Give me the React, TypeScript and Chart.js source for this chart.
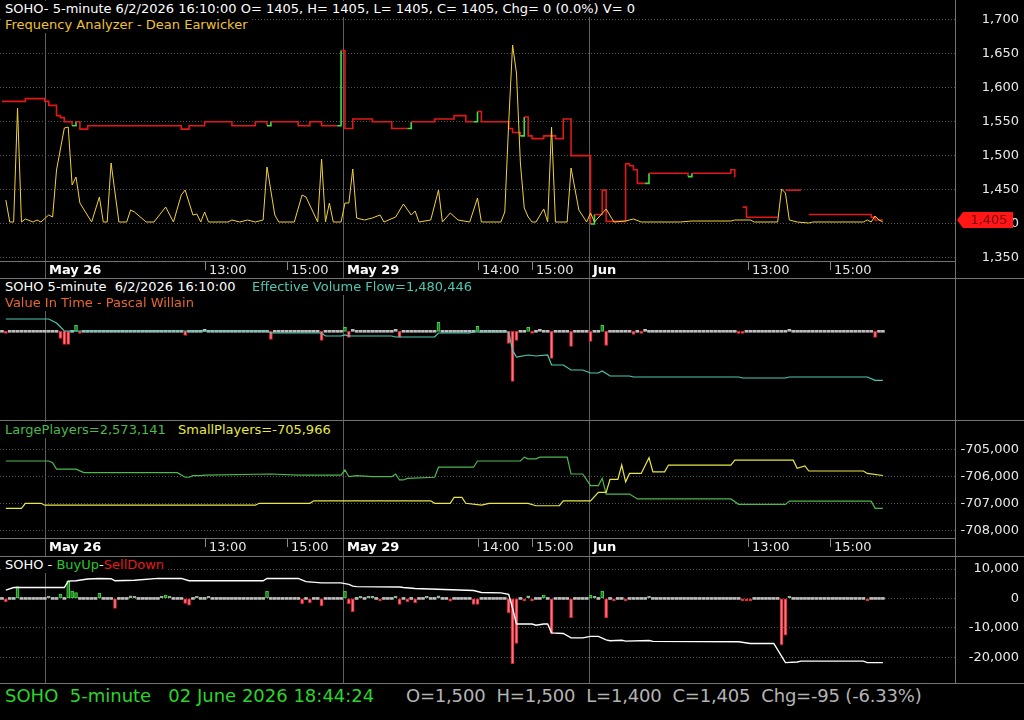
import React, { useEffect, useRef } from 'react';
import { Chart, registerables } from 'chart.js';

Chart.register(...registerables);

// ---------------- shared x axis (bar index, 5-minute bars) ----------------
const slotCount = 245;
const barCount = 227;
const tickIdx = [11, 52, 73, 87.5, 122, 136, 150.5, 191.5, 212.5];
const tickLabels = ['May 26', '13:00', '15:00', 'May 29', '14:00', '15:00', 'Jun', '13:00', '15:00'];

// ---------------- panel 1: price (step line) + Frequency Analyzer ----------------
const priceIdx = [0, 6, 11, 12, 14, 15, 16, 18, 19, 20, 22, 46, 48, 52, 59, 65, 68, 69, 76, 79, 82, 86, 87, 88, 90, 95, 100, 104, 105, 111, 116, 119, 121, 122, 123, 130, 131, 133, 134, 135, 136, 139, 142, 144, 146, 151, 152, 154, 155, 160, 161, 162, 163, 165, 166, 175, 176, 177, 187, 188, 189, 190, 191, 199, 200, 201, 205, 206, 207, 222, 223, 224, 226];
const priceVal = [1580, 1584, 1580, 1574, 1559, 1556, 1550, 1544, 1550, 1539, 1544, 1539, 1544, 1550, 1544, 1550, 1544, 1550, 1544, 1550, 1544, 1544, 1655, 1540, 1554, 1550, 1540, 1540, 1550, 1554, 1559, 1550, 1550, 1565, 1550, 1540, 1534, 1529, 1557, 1529, 1525, 1529, 1525, 1554, 1500, 1399, 1413, 1449, 1403, 1488, 1485, 1479, 1459, 1459, 1474, 1474, 1469, 1474, 1479, 1468, null, 1424, 1409, 1409, null, 1449, 1449, null, 1413, 1413, 1409, 1405, 1405];
const freqIdx = [1, 2, 3, 4, 5, 6, 8, 9, 10, 12, 13, 14, 16, 17, 18, 19, 20, 23, 25, 26, 27, 28, 30, 32, 33, 34, 37, 39, 42, 44, 46, 47, 49, 50, 51, 52, 53, 58, 59, 61, 63, 65, 67, 68, 70, 71, 75, 77, 78, 81, 82, 83, 84, 85, 87, 88, 89, 90, 91, 93, 95, 97, 98, 101, 103, 105, 106, 107, 110, 112, 113, 115, 117, 120, 122, 123, 128, 129, 130, 131, 132, 133, 134, 135, 136, 137, 139, 140, 141, 142, 145, 146, 148, 150, 151, 152, 155, 157, 160, 162, 164, 174, 177, 187, 188, 192, 193, 199, 200, 201, 202, 204, 207, 208, 221, 222, 223, 224, 225, 226];
const freqVal = [22, 0, 0, 114, 0, 3, 0, 2, 0, 7, 5, 52, 94, 95, 37, 45, 19, 0, 25, 0, 0, 59, 0, 0, 12, 10, 0, 0, 15, 0, 27, 32, 7, 8, 0, 10, 0, 0, 2, 0, 2, 0, 2, 55, 7, 0, 0, 27, 25, 0, 63, 0, 19, 0, 0, 19, 19, 53, 4, 2, 4, 7, 0, 5, 18, 7, 11, 0, 2, 32, 0, 9, 2, 0, 24, 0, 0, 10, 99, 177, 149, 59, 14, 5, 0, 0, 13, 0, 95, 0, 0, 54, 12, 0, 9, 0, 13, 0, 1, 3, 0, 0, 1, 1, 2, 2, 0, 0, 33, 29, 2, 0, -1, 0, 0, 2, 0, 6, 2, 0];
const priceTickVals = [1350, 1400, 1450, 1500, 1550, 1600, 1650, 1700];

// ---------------- panel 2: Value In Time bars + Effective Volume Flow ----------------
const vitIdx = [1, 15, 16, 17, 19, 20, 47, 52, 69, 82, 88, 89, 90, 101, 102, 112, 122, 130, 131, 132, 135, 136, 138, 141, 146, 151, 154, 155, 162, 164, 165, 189, 190, 202, 224];
const vitVal = [-2000, -7000, -13000, -13000, 6000, -2000, -4000, 2000, -8000, -9000, 4000, -6000, 2000, 2000, -6000, 9000, 5000, -12000, -50000, -9000, 4000, -2000, 2000, -27000, -15000, -10000, 6000, -14000, -3000, -2000, 1000, -2000, -2000, 2000, -6000];
const evfIdx = [1, 12, 14, 16, 68, 69, 82, 83, 87, 88, 89, 100, 101, 111, 112, 120, 121, 130, 131, 132, 135, 137, 140, 141, 144, 146, 149, 151, 153, 154, 156, 161, 162, 189, 190, 201, 202, 222, 224, 226];
const evfVal = [4999000, 4999000, 4769000, 4310000, 4310000, 4195000, 4195000, 4023000, 4023000, 4081000, 4023000, 4023000, 3966000, 3966000, 4195000, 4195000, 4253000, 4253000, 3200000, 2818000, 2933000, 2875000, 2933000, 2359000, 2359000, 2072000, 2072000, 1899000, 1899000, 2014000, 1727000, 1727000, 1670000, 1670000, 1612000, 1612000, 1670000, 1670000, 1480446, 1480446];

// ---------------- panel 3: LargePlayers / SmallPlayers ----------------
const lpIdx = [1, 12, 13, 14, 19, 21, 45, 47, 48, 49, 51, 52, 69, 76, 87, 88, 89, 91, 95, 100, 101, 102, 103, 104, 111, 112, 121, 122, 133, 134, 135, 137, 138, 145, 146, 149, 151, 153, 154, 155, 161, 163, 187, 189, 201, 202, 223, 224, 226];
const lpVal = [2590600, 2590600, 2590000, 2587600, 2587600, 2586300, 2586300, 2584600, 2584600, 2585200, 2585200, 2585400, 2585800, 2585400, 2585400, 2587300, 2584800, 2585200, 2584800, 2584800, 2585800, 2583600, 2583600, 2584200, 2584600, 2588300, 2588300, 2590600, 2590600, 2592000, 2591400, 2591400, 2592000, 2592000, 2585800, 2585800, 2581500, 2581500, 2584200, 2578400, 2578400, 2576600, 2576600, 2574600, 2574600, 2575800, 2575800, 2573141, 2573141];
const spIdx = [1, 5, 6, 10, 11, 65, 66, 79, 80, 110, 111, 115, 116, 118, 119, 123, 125, 135, 137, 143, 144, 151, 153, 155, 156, 158, 159, 160, 161, 164, 166, 167, 170, 171, 187, 188, 203, 204, 206, 207, 221, 222, 226];
const spVal = [-707180, -707180, -706990, -706990, -707060, -707060, -706990, -706990, -706900, -706900, -706990, -706990, -706770, -706770, -706990, -707060, -706990, -706990, -707080, -707080, -706900, -706900, -706590, -706590, -706110, -706110, -705580, -706200, -705890, -705890, -705310, -705830, -705830, -705580, -705580, -705400, -705400, -705700, -705610, -705800, -705800, -705890, -705966];
const playersTickVals = [-705000, -706000, -707000, -708000];

// ---------------- panel 4: BuyUp-SellDown ----------------
const bsIdx = [1, 4, 12, 15, 17, 18, 19, 25, 29, 33, 34, 41, 42, 43, 47, 48, 50, 53, 68, 77, 79, 82, 88, 89, 90, 92, 94, 95, 97, 101, 102, 104, 106, 109, 112, 115, 121, 122, 130, 131, 132, 134, 135, 136, 139, 141, 146, 151, 152, 154, 155, 157, 160, 166, 190, 191, 192, 200, 201, 202, 222];
const bsVal = [-1100, 4000, 800, 1400, 5900, 2500, 2000, 1700, -3400, 900, 600, 800, 1100, 600, -1700, -2300, 600, 700, 2500, -1800, -1400, -2500, 2500, -1800, -4500, 500, 600, 600, -800, 600, -2000, -1100, -1400, 700, 900, -900, -2000, -2000, -4800, -22200, -15300, -800, 900, -800, 1100, -11900, -6500, 1100, 300, 2500, -6500, -800, -800, 700, -800, -800, -800, -15700, -12500, 700, -800];
const bsLineIdx = [1, 3, 16, 17, 19, 22, 25, 28, 29, 34, 40, 46, 48, 67, 68, 76, 78, 82, 87, 89, 90, 91, 102, 103, 106, 121, 123, 128, 130, 131, 132, 136, 137, 139, 140, 141, 144, 146, 149, 151, 153, 155, 156, 159, 160, 166, 167, 189, 192, 198, 201, 204, 205, 221, 222, 226];
const bsLineVal = [2800, 3700, 3700, 5900, 6000, 6600, 6800, 6700, 6000, 6200, 6800, 6800, 6000, 6000, 6800, 6800, 5700, 5300, 5300, 4800, 4200, 4000, 3900, 3700, 3400, 2700, 2000, 1900, 1400, -3400, -8700, -8700, -9100, -8700, -8700, -11700, -11900, -13400, -13400, -12900, -12900, -14100, -14400, -14200, -14500, -14300, -14600, -14700, -15300, -15300, -21800, -21600, -21300, -21300, -21800, -21800];
const bsTickVals = [10000, 0, -10000, -20000];

// ---------------- styling ----------------
const FONT = '"DejaVu Sans", Verdana, sans-serif';
const RED = '#e01818';
const GREEN = '#3ee03e';
const GRID = '#505050';
const DAYLINE = '#5e5e5e';
const BORDER = '#747474';

Chart.defaults.font.family = FONT;
Chart.defaults.font.size = 13;
Chart.defaults.color = '#e8e8e8';

const fmt = (v: number) => v.toLocaleString('en-US');
const last = (a: (number | null)[]) => a.filter((v) => v !== null).slice(-1)[0] as number;
const pts = (idx: number[], val: (number | null)[]) => idx.map((x, k) => ({ x, y: val[k] }));
const fullBars = (idx: number[], val: number[]) => {
  const out: { x: number; y: number }[] = [];
  for (let i = 0; i < barCount; i++) out.push({ x: i, y: 0 });
  idx.forEach((k, j) => { out[k].y = val[j]; });
  return out;
};
const isDay = (s: string) => s.indexOf(':') < 0;

const xScale: any = { type: 'linear', min: -0.5, max: slotCount - 0.5, display: false, offset: false };

const yRight = (min: number, max: number, tickVals: number[]) => ({
  position: 'right',
  min,
  max,
  ticks: {
    crossAlign: 'far',
    color: '#e8e8e8',
    font: { family: FONT, size: 13 },
    padding: 0,
    autoSkip: false,
    callback: (v: any) => fmt(Number(v)),
  },
  afterBuildTicks: (s: any) => { s.ticks = tickVals.map((value) => ({ value })); },
  grid: { color: GRID, drawTicks: false, lineWidth: 1 },
  border: { display: false, dash: [1, 2] },
  afterFit: (s: any) => { s.width = 64; s.paddingTop = 0; s.paddingBottom = 0; },
});

const xDeco: any = {
  id: 'xDeco',
  beforeDatasetsDraw(chart: any, _a: any, opts: any) {
    const { ctx, chartArea } = chart;
    const xs = chart.scales.x;
    const bottom = opts.strip ? chart.height : chartArea.bottom;
    ctx.save();
    ctx.strokeStyle = DAYLINE;
    ctx.lineWidth = 1;
    tickIdx.forEach((v, k) => {
      if (!isDay(tickLabels[k])) return;
      const x = Math.round(xs.getPixelForValue(v)) + 0.5;
      ctx.beginPath();
      ctx.moveTo(x, chartArea.top);
      ctx.lineTo(x, bottom);
      ctx.stroke();
    });
    ctx.restore();
  },
  afterDraw(chart: any, _a: any, opts: any) {
    if (!opts.strip) return;
    const { ctx, chartArea } = chart;
    const xs = chart.scales.x;
    const top = chartArea.bottom;
    ctx.save();
    tickIdx.forEach((v, k) => {
      const lab = tickLabels[k];
      const x = Math.round(xs.getPixelForValue(v)) + 0.5;
      if (!isDay(lab)) {
        ctx.strokeStyle = '#8a8a8a';
        ctx.beginPath();
        ctx.moveTo(x, top);
        ctx.lineTo(x, top + 9);
        ctx.stroke();
      }
      ctx.font = (isDay(lab) ? 'bold ' : '') + '13px ' + FONT;
      ctx.fillStyle = isDay(lab) ? '#ffffff' : '#e4e4e4';
      ctx.textAlign = 'left';
      ctx.textBaseline = 'middle';
      ctx.fillText(lab, x + 3.5, top + 9.5);
    });
    ctx.restore();
  },
};

const LAST_PRICE = last(priceVal);
const lastTag: any = {
  id: 'lastTag',
  afterDraw(chart: any) {
    const { ctx, chartArea } = chart;
    const y = Math.round(chart.scales.y.getPixelForValue(LAST_PRICE));
    const x0 = chartArea.right + 2;
    ctx.save();
    ctx.fillStyle = '#ff1616';
    ctx.beginPath();
    ctx.moveTo(x0, y);
    ctx.lineTo(x0 + 6, y - 8);
    ctx.lineTo(x0 + 56, y - 8);
    ctx.lineTo(x0 + 56, y + 8);
    ctx.lineTo(x0 + 6, y + 8);
    ctx.closePath();
    ctx.fill();
    ctx.fillStyle = '#7c0000';
    ctx.font = '13px ' + FONT;
    ctx.textAlign = 'center';
    ctx.textBaseline = 'middle';
    ctx.fillText(fmt(LAST_PRICE), x0 + 32, y + 1);
    ctx.restore();
  },
};

const baseOpts = (padding: any, plugins: any, scales: any) => ({
  responsive: false,
  maintainAspectRatio: false,
  animation: false,
  events: [],
  layout: { padding },
  plugins: { legend: { display: false }, tooltip: { enabled: false }, ...plugins },
  scales,
});

const vitColor = (v: number) => (v >= 3000 ? 'g' : v < 0 ? 'r' : 'n');
const bsColor = (v: number) => (v >= 1000 ? 'g' : v < 0 ? 'r' : v > 0 ? 'p' : 'n');
const barFill: any = { g: '#1f7f1f', r: '#f07a84', n: '#bdbdbd', p: '#a9b5a9' };
const barEdge: any = { g: '#48d048', r: '#e41c2c', n: '#bdbdbd', p: '#8cb88c' };

const barDataset = (data: any[], yAxisID: string, rule: (v: number) => string) => ({
  type: 'bar',
  data,
  yAxisID,
  barThickness: 3,
  minBarLength: 2,
  borderSkipped: false,
  borderWidth: (c: any) => (rule(c.raw.y) === 'n' ? 0 : 1),
  backgroundColor: (c: any) => barFill[rule(c.raw.y)],
  borderColor: (c: any) => barEdge[rule(c.raw.y)],
});

function makeCharts(cA: HTMLCanvasElement, cB: HTMLCanvasElement, cC: HTMLCanvasElement, cD: HTMLCanvasElement) {
  const A = new Chart(cA, {
    type: 'line',
    data: {
      datasets: [
        { data: pts(freqIdx, freqVal), yAxisID: 'yf', borderColor: '#f2d23a', borderWidth: 1, pointRadius: 0, tension: 0 },
        {
          data: pts(priceIdx, priceVal),
          yAxisID: 'y',
          stepped: 'before',
          borderWidth: 1.6,
          pointRadius: 0,
          borderColor: RED,
          spanGaps: false,
          segment: {
            borderColor: (c: any) => (c.p1.parsed.y > c.p0.parsed.y && c.p1.parsed.x - c.p0.parsed.x <= 1 ? GREEN : RED),
          },
        },
      ],
    } as any,
    options: baseOpts({ left: 0, right: 5, top: 0, bottom: 17 }, { xDeco: { strip: true } }, {
      x: xScale,
      y: yRight(1344.5, 1729.5, priceTickVals),
      yf: { display: false, min: -39, max: 222 },
    }) as any,
    plugins: [xDeco, lastTag],
  });

  const B = new Chart(cB, {
    type: 'line',
    data: {
      datasets: [
        { type: 'line', data: pts(evfIdx, evfVal), yAxisID: 'yt', borderColor: '#4ec7b2', borderWidth: 1.2, pointRadius: 0, tension: 0 },
        barDataset(fullBars(vitIdx, vitVal), 'yv', vitColor),
      ],
    } as any,
    options: baseOpts({ left: 0, right: 69, top: 0, bottom: 0 }, { xDeco: { strip: false } }, {
      x: xScale,
      yv: { display: false, min: -88700, max: 52300 },
      yt: { display: false, min: -798334, max: 7295066 },
    }) as any,
    plugins: [xDeco],
  });

  const C = new Chart(cC, {
    type: 'line',
    data: {
      datasets: [
        { data: pts(spIdx, spVal), yAxisID: 'y', borderColor: '#e8e842', borderWidth: 1.2, pointRadius: 0, tension: 0 },
        { data: pts(lpIdx, lpVal), yAxisID: 'yg', borderColor: '#4cb94c', borderWidth: 1.2, pointRadius: 0, tension: 0 },
      ],
    } as any,
    options: baseOpts({ left: 0, right: 5, top: 0, bottom: 18 }, { xDeco: { strip: true } }, {
      x: xScale,
      y: yRight(-708269, -703956, playersTickVals),
      yg: { display: false, min: 2562182, max: 2605355 },
    }) as any,
    plugins: [xDeco],
  });

  const D = new Chart(cD, {
    type: 'line',
    data: {
      datasets: [
        { type: 'line', data: pts(bsLineIdx, bsLineVal), yAxisID: 'y', borderColor: '#ffffff', borderWidth: 1.4, pointRadius: 0, tension: 0 },
        barDataset(fullBars(bsIdx, bsVal), 'y', bsColor),
      ],
    } as any,
    options: baseOpts({ left: 0, right: 5, top: 0, bottom: 0 }, { xDeco: { strip: false } }, {
      x: xScale,
      y: yRight(-28741, 14082, bsTickVals),
    }) as any,
    plugins: [xDeco],
  });

  return [A, B, C, D];
}

const txt = (left: number, top: number, color: string, text: string, size = 13, lh = 16, ls = 0) => (
  <div
    style={{
      position: 'absolute',
      left,
      top,
      color,
      background: '#000',
      font: `${size}px ${FONT}`,
      lineHeight: `${lh}px`,
      letterSpacing: ls,
      whiteSpace: 'pre',
      padding: '0 2px',
    }}
  >
    {text}
  </div>
);

const hline = (top: number, width: number) => (
  <div style={{ position: 'absolute', left: 0, top, width, height: 1, background: BORDER }} />
);

export default function App() {
  const rA = useRef<HTMLCanvasElement>(null);
  const rB = useRef<HTMLCanvasElement>(null);
  const rC = useRef<HTMLCanvasElement>(null);
  const rD = useRef<HTMLCanvasElement>(null);

  useEffect(() => {
    const charts = makeCharts(rA.current!, rB.current!, rC.current!, rD.current!);
    return () => charts.forEach((c) => c.destroy());
  }, []);

  const cv = (ref: any, top: number, height: number) => (
    <canvas ref={ref} width={1024} height={height} style={{ position: 'absolute', left: 0, top, width: 1024, height }} />
  );

  return (
    <div style={{ position: 'fixed', left: 0, top: 0, width: 1024, height: 720, background: '#000', overflow: 'hidden' }}>
      {cv(rA, 0, 278)}
      {cv(rB, 279, 141)}
      {cv(rC, 421, 135)}
      {cv(rD, 557, 126)}

      {hline(261, 955)}
      {hline(278, 1024)}
      {hline(420, 1024)}
      {hline(538, 955)}
      {hline(556, 1024)}
      {hline(683, 1024)}
      <div style={{ position: 'absolute', left: 955, top: 0, width: 1, height: 683, background: BORDER }} />

      {txt(3, 1, '#ffffff', 'SOHO- 5-minute 6/2/2026 16:10:00 O= 1405, H= 1405, L= 1405, C= 1405, Chg= 0 (0.0%) V= 0')}
      {txt(3, 17, '#f0c232', 'Frequency Analyzer - Dean Earwicker')}

      {txt(3, 279, '#ffffff', 'SOHO 5-minute  6/2/2026 16:10:00')}
      {txt(250, 279, '#4ec7b2', 'Effective Volume Flow=' + fmt(last(evfVal)))}
      {txt(3, 295, '#e8662e', 'Value In Time - Pascal Willain')}

      {txt(3, 422, '#4cb94c', 'LargePlayers=' + fmt(last(lpVal)))}
      {txt(176, 422, '#e8e842', 'SmallPlayers=' + fmt(last(spVal)))}

      <div
        style={{
          position: 'absolute',
          left: 3,
          top: 557,
          background: '#000',
          font: `13px ${FONT}`,
          lineHeight: '16px',
          whiteSpace: 'pre',
          padding: '0 2px',
        }}
      >
        <span style={{ color: '#ffffff' }}>SOHO - </span>
        <span style={{ color: '#26c826' }}>BuyUp</span>
        <span style={{ color: '#ffffff' }}>-</span>
        <span style={{ color: '#e01c1c' }}>SellDown</span>
      </div>

      {txt(3, 685, '#2bd42b', 'SOHO  5-minute   02 June 2026 18:44:24', 18, 22)}
      {txt(404, 685, '#b4b4b4', 'O=1,500  H=1,500  L=1,400  C=1,405  Chg=-95 (-6.33%)', 18, 22, -0.2)}
    </div>
  );
}
